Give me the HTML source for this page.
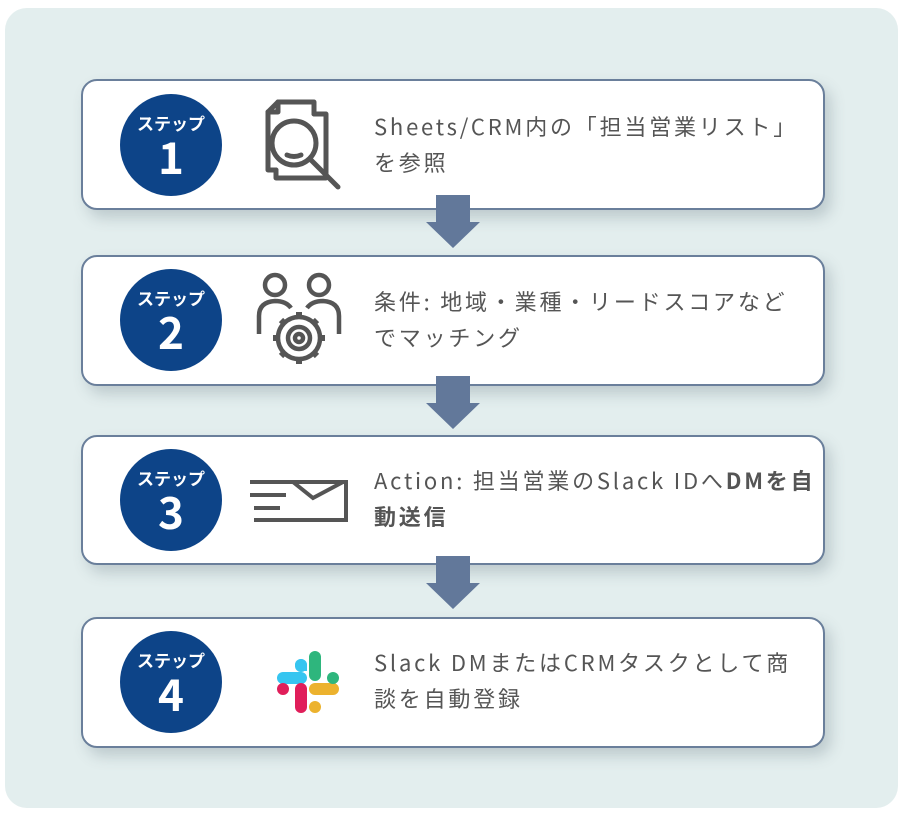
<!DOCTYPE html>
<html><head><meta charset="utf-8"><style>
body{margin:0;width:906px;height:816px;background:#fff;position:relative;overflow:hidden;font-family:"Liberation Sans","Noto Sans CJK JP",sans-serif}
.bg{position:absolute;left:5px;top:8px;width:893px;height:800px;background:#e3eeee;border-radius:22px}
.card{position:absolute;left:81px;width:740px;background:#fff;border:2px solid #6a7f9b;border-radius:16px;box-shadow:6px 8px 14px rgba(80,100,110,.25)}
.circ{position:absolute;left:120px;width:102px;height:102px;border-radius:50%;background:#0d4488;color:#fff;text-align:center}
.circ .s{position:absolute;top:19px;left:0;right:0;font-size:17px;font-weight:bold;font-family:"Noto Sans CJK JP",sans-serif;line-height:20px}
.circ .n{position:absolute;top:34px;left:0;right:0;font-size:44px;font-weight:bold;line-height:54px;font-family:"Noto Sans CJK JP",sans-serif}
.t{position:absolute;left:374px;font-size:22px;letter-spacing:2.8px;line-height:36px;color:#555;white-space:nowrap;font-family:"Noto Sans CJK JP",sans-serif}
.arr{position:absolute;left:426px;width:54px;height:53px}
.ic{position:absolute}
</style></head><body>
<div class="bg"></div>
<div class="card" style="top:79px;height:127px"></div>
<div class="card" style="top:255px;height:127px"></div>
<div class="card" style="top:435px;height:126px"></div>
<div class="card" style="top:617px;height:127px"></div>

<svg class="arr" style="top:195px" viewBox="0 0 54 53"><path d="M10 0H44V27H54L27 53L0 27H10Z" fill="#62789a"/></svg>
<svg class="arr" style="top:376px" viewBox="0 0 54 53"><path d="M10 0H44V27H54L27 53L0 27H10Z" fill="#62789a"/></svg>
<svg class="arr" style="top:556px" viewBox="0 0 54 53"><path d="M10 0H44V27H54L27 53L0 27H10Z" fill="#62789a"/></svg>

<div class="circ" style="top:94px"><div class="s">ステップ</div><div class="n">1</div></div>
<div class="circ" style="top:269px"><div class="s">ステップ</div><div class="n">2</div></div>
<div class="circ" style="top:449px"><div class="s">ステップ</div><div class="n">3</div></div>
<div class="circ" style="top:631px"><div class="s">ステップ</div><div class="n">4</div></div>

<svg class="ic" style="left:254px;top:98px" width="92" height="95" viewBox="0 0 92 95" fill="none" stroke="#555" stroke-width="5" stroke-linejoin="round" stroke-linecap="round">
<path d="M14 14L24 4H60V16"/><path d="M14 14V72H22"/><path d="M24 4V14H14"/><path d="M60 16H72V80H22V72"/>
<circle cx="40" cy="45" r="22"/><path d="M56 61L84 89"/><path d="M33 57Q40 60 47 57"/>
</svg>
<svg class="ic" style="left:256px;top:272px" width="86" height="98" viewBox="0 0 86 98" fill="none" stroke="#555" stroke-width="4.5">
<circle cx="19" cy="13" r="10"/><circle cx="63" cy="13" r="10"/>
<path d="M3 62V44Q3 30 19 29Q30 29 35 36"/><path d="M83 62V44Q83 30 67 29Q56 29 51 36"/>
<circle cx="43" cy="66" r="21"/><circle cx="43" cy="66" r="11"/><circle cx="43" cy="66" r="4"/>
<path d="M43 40V46M43 86V92M17 66H23M63 66H69M25 48L29 52M57 80L61 84M25 84L29 80M57 52L61 48" stroke-width="6"/>
</svg>
<svg class="ic" style="left:248px;top:478px" width="100" height="50" viewBox="0 0 100 50" fill="none" stroke="#555" stroke-width="4">
<path d="M2 4H38M2 17H38M6 30H32"/><path d="M14 4H98V42H6"/><path d="M45 4L65 20L95 4"/>
</svg>
<svg class="ic" style="left:275px;top:649px" width="66" height="66" viewBox="0 0 66 66">
<g stroke-linecap="round" stroke-width="12">
<path d="M8 29H26" stroke="#36c5f0"/>
<path d="M40 8V26" stroke="#2eb67d"/>
<path d="M40 40H58" stroke="#ecb22e"/>
<path d="M26 40V58" stroke="#e01e5a"/>
</g>
<path d="M20 16a6 6 0 1 1 12 0v6h-6a6 6 0 0 1-6-6z" fill="#36c5f0"/>
<rect x="20" y="10" width="12" height="13" rx="6" fill="#36c5f0"/>
<circle cx="58" cy="29" r="6" fill="#2eb67d"/>
<circle cx="40" cy="58" r="6" fill="#ecb22e"/>
<circle cx="8" cy="40" r="6" fill="#e01e5a"/>
</svg>

<div class="t" style="top:108px">Sheets/CRM内の「担当営業リスト」<br>を参照</div>
<div class="t" style="top:283px">条件: 地域・業種・リードスコアなど<br>でマッチング</div>
<div class="t" style="top:462px">Action: 担当営業のSlack IDへ<b>DMを自</b><br><b>動送信</b></div>
<div class="t" style="top:644px">Slack DMまたはCRMタスクとして商<br>談を自動登録</div>
</body></html>
